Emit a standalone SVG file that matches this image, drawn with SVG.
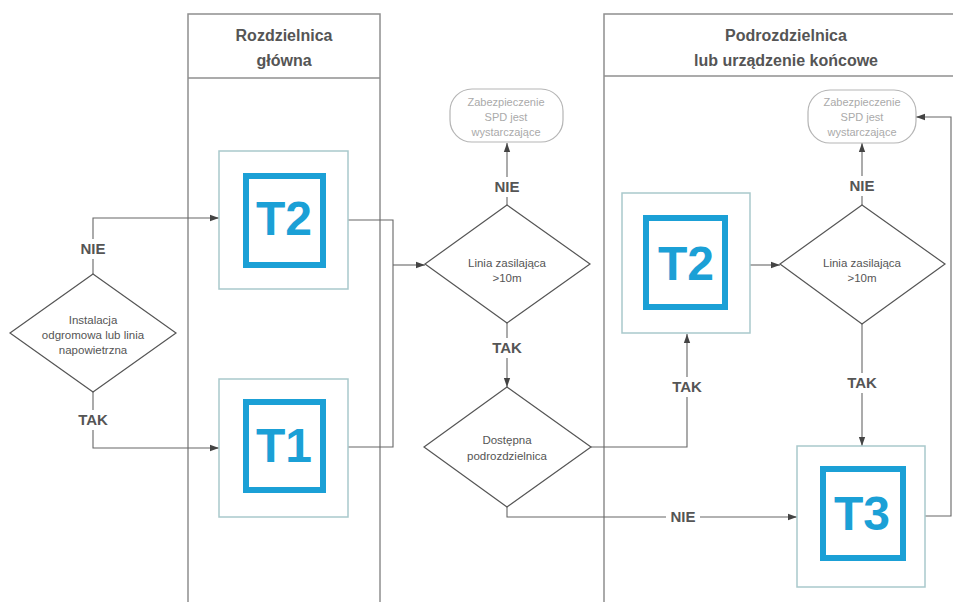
<svg xmlns="http://www.w3.org/2000/svg" width="953" height="602" viewBox="0 0 953 602">
<style>
.col{fill:none;stroke:#8f8f8f;stroke-width:1.5}
.hdr{font-family:"Liberation Sans",Arial,sans-serif;font-size:16px;font-weight:bold;fill:#555;text-anchor:middle}
.dia{fill:#fff;stroke:#555;stroke-width:1.2}
.dt{font-family:"Liberation Sans",Arial,sans-serif;font-size:11.5px;fill:#555;text-anchor:middle}
.outer{fill:#fff;stroke:#a9c9cc;stroke-width:1.5}
.inner{fill:#fff;stroke:#1ba0d6;stroke-width:6}
.tt{font-family:"Liberation Sans",Arial,sans-serif;font-size:48px;font-weight:bold;fill:#1ba0d6;text-anchor:middle}
.term{fill:#fff;stroke:#b5b5b5;stroke-width:1.2}
.termt{font-family:"Liberation Sans",Arial,sans-serif;font-size:11px;fill:#aaa;text-anchor:middle}
.ln{fill:none;stroke:#666;stroke-width:1.1}
.lbl{font-family:"Liberation Sans",Arial,sans-serif;font-size:15px;font-weight:bold;fill:#555;text-anchor:middle}
.lblbg{fill:#fff}
</style>
<defs>
<marker id="ah" viewBox="0 0 10 10" refX="10" refY="5" markerWidth="9" markerHeight="9" markerUnits="userSpaceOnUse" orient="auto">
<path d="M0,1.5 L10,5 L0,8.5 z" fill="#444"/>
</marker>
</defs>
<rect width="953" height="602" fill="#fff"/>
<g id="col-main">
<rect class="col" x="188" y="14" width="192" height="600"/>
<line class="col" x1="188" y1="78" x2="380" y2="78"/>
<text class="hdr" x="284" y="41">Rozdzielnica</text>
<text class="hdr" x="284" y="66">główna</text>
</g>
<g id="col-sub">
<rect class="col" x="604" y="14" width="360" height="600"/>
<line class="col" x1="604" y1="76" x2="964" y2="76"/>
<text class="hdr" x="786" y="41">Podrozdzielnica</text>
<text class="hdr" x="786" y="66">lub urządzenie końcowe</text>
</g>
<g id="connectors">
<path class="ln" d="M93,274 V218 H219" marker-end="url(#ah)"/>
<path class="ln" d="M93,392 V448 H219" marker-end="url(#ah)"/>
<path class="ln" d="M348,220 H393 V447 H348"/>
<path class="ln" d="M393,265 H425" marker-end="url(#ah)"/>
<path class="ln" d="M507,205 V143" marker-end="url(#ah)"/>
<path class="ln" d="M507,323 V387" marker-end="url(#ah)"/>
<path class="ln" d="M591,447 H687 V334" marker-end="url(#ah)"/>
<path class="ln" d="M507,507 V517 H797" marker-end="url(#ah)"/>
<path class="ln" d="M750,265 H780" marker-end="url(#ah)"/>
<path class="ln" d="M862,205 V143" marker-end="url(#ah)"/>
<path class="ln" d="M862,324 V446" marker-end="url(#ah)"/>
<path class="ln" d="M925,516 H951 V117 H916" marker-end="url(#ah)"/>
<rect class="lblbg" x="76" y="239" width="34" height="20"/>
<text class="lbl" x="93" y="254">NIE</text>
<rect class="lblbg" x="74" y="410" width="38" height="20"/>
<text class="lbl" x="93" y="425">TAK</text>
<rect class="lblbg" x="490" y="177" width="34" height="20"/>
<text class="lbl" x="507" y="192">NIE</text>
<rect class="lblbg" x="488" y="338" width="38" height="20"/>
<text class="lbl" x="507" y="353">TAK</text>
<rect class="lblbg" x="668" y="377" width="38" height="20"/>
<text class="lbl" x="687" y="392">TAK</text>
<rect class="lblbg" x="666" y="507" width="34" height="20"/>
<text class="lbl" x="683" y="522">NIE</text>
<rect class="lblbg" x="845" y="176" width="34" height="20"/>
<text class="lbl" x="862" y="191">NIE</text>
<rect class="lblbg" x="843" y="373" width="38" height="20"/>
<text class="lbl" x="862" y="388">TAK</text>
</g>
<g id="d-instalacja">
<polygon class="dia" points="93,274 176,333 93,392 10,333"/>
<text class="dt" x="93" y="324">Instalacja</text>
<text class="dt" x="93" y="339">odgromowa lub linia</text>
<text class="dt" x="93" y="354">napowietrzna</text>
</g>
<g id="t2-main">
<rect class="outer" x="219" y="151" width="129" height="138"/>
<rect class="inner" x="246" y="176" width="77" height="89"/>
<text class="tt" x="284" y="235">T2</text>
</g>
<g id="t1-main">
<rect class="outer" x="219" y="379" width="129" height="138"/>
<rect class="inner" x="246" y="402" width="77" height="88"/>
<text class="tt" x="284" y="462">T1</text>
</g>
<g id="d-linia1">
<polygon class="dia" points="507,205 590,264 507,323 425,264"/>
<text class="dt" x="507" y="267">Linia zasilająca</text>
<text class="dt" x="507" y="282">&gt;10m</text>
</g>
<g id="spd1">
<rect class="term" x="450" y="89" width="113" height="53" rx="22"/>
<text class="termt" x="506" y="106">Zabezpieczenie</text>
<text class="termt" x="506" y="121">SPD jest</text>
<text class="termt" x="506" y="136">wystarczające</text>
</g>
<g id="d-dostepna">
<polygon class="dia" points="507,387 591,447 507,507 424,447"/>
<text class="dt" x="507" y="444">Dostępna</text>
<text class="dt" x="507" y="460">podrozdzielnica</text>
</g>
<g id="t2-sub">
<rect class="outer" x="622" y="193" width="128" height="140"/>
<rect class="inner" x="646" y="218" width="79" height="89"/>
<text class="tt" x="686" y="280">T2</text>
</g>
<g id="d-linia2">
<polygon class="dia" points="862,205 945,264 862,324 780,264"/>
<text class="dt" x="862" y="267">Linia zasilająca</text>
<text class="dt" x="862" y="282">&gt;10m</text>
</g>
<g id="spd2">
<rect class="term" x="808" y="90" width="108" height="53" rx="22"/>
<text class="termt" x="862" y="106">Zabezpieczenie</text>
<text class="termt" x="862" y="121">SPD jest</text>
<text class="termt" x="862" y="136">wystarczające</text>
</g>
<g id="t3">
<rect class="outer" x="797" y="446" width="128" height="141"/>
<rect class="inner" x="823" y="469" width="80" height="89"/>
<text class="tt" x="862" y="530">T3</text>
</g>
</svg>
